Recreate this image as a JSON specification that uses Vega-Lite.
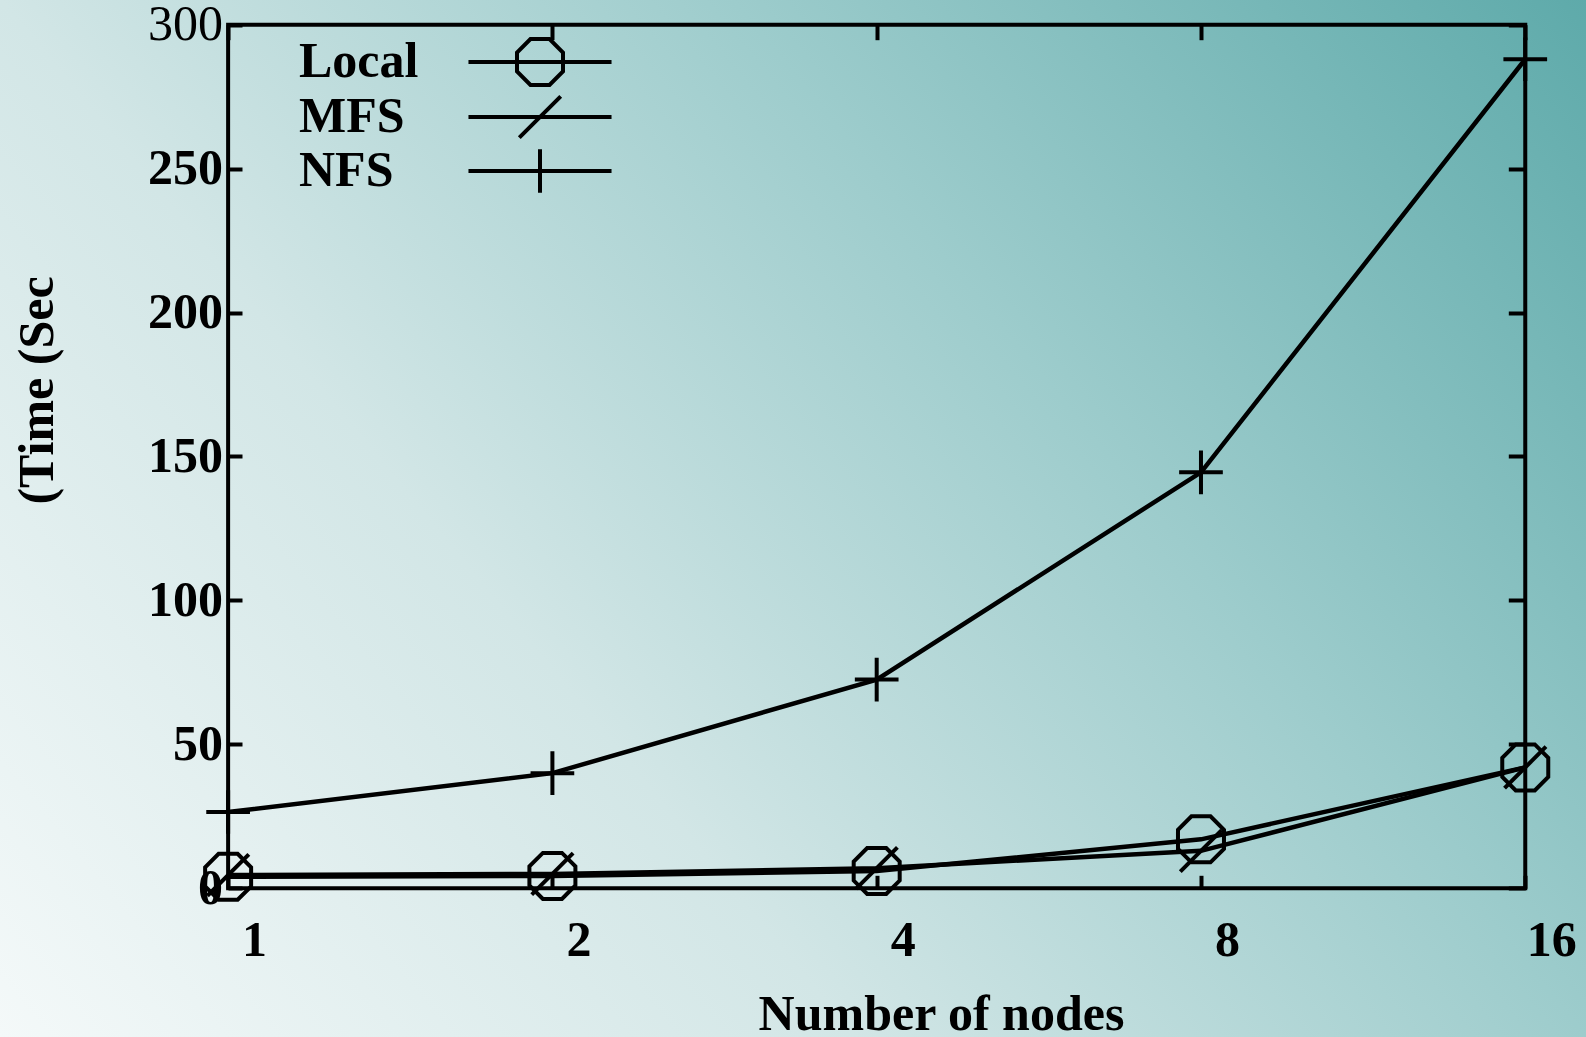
{
  "$schema": "https://vega.github.io/schema/vega-lite/v6.json",
  "width": 1586,
  "height": 1037,
  "autosize": {"type": "none"},
  "padding": 0,
  "background": "#f4f9f9",
  "view": {
    "stroke": null,
    "fill": {
      "gradient": "linear",
      "x1": 0, "y1": 1, "x2": 1.193, "y2": 0.358,
      "stops": [
        {"offset": 0, "color": "#f4f9f9"},
        {"offset": 0.35, "color": "#d2e6e6"},
        {"offset": 0.65, "color": "#9dcccc"},
        {"offset": 1, "color": "#5eaaaa"}
      ]
    }
  },
  "config": {
    "font": "Liberation Serif",
    "axis": {"grid": false}
  },
  "datasets": {
    "times": [
      {"nodes": 1, "series": "Local", "time": 4},
      {"nodes": 2, "series": "Local", "time": 4.3},
      {"nodes": 4, "series": "Local", "time": 6},
      {"nodes": 8, "series": "Local", "time": 17},
      {"nodes": 16, "series": "Local", "time": 42},
      {"nodes": 1, "series": "MFS", "time": 4.6},
      {"nodes": 2, "series": "MFS", "time": 5},
      {"nodes": 4, "series": "MFS", "time": 7},
      {"nodes": 8, "series": "MFS", "time": 13},
      {"nodes": 16, "series": "MFS", "time": 42},
      {"nodes": 1, "series": "NFS", "time": 26.5},
      {"nodes": 2, "series": "NFS", "time": 40},
      {"nodes": 4, "series": "NFS", "time": 72.5},
      {"nodes": 8, "series": "NFS", "time": 144.5},
      {"nodes": 16, "series": "NFS", "time": 288}
    ],
    "frame": [{"xmin": 1, "xmax": 16, "ymin": 0, "ymax": 300}]
  },
  "resolve": {
    "axis": {"x": "independent", "y": "independent"},
    "scale": {"shape": "independent"},
    "legend": {"shape": "independent"}
  },
  "layer": [
    {
      "data": {"name": "frame"},
      "mark": {"type": "rect", "fill": null, "stroke": "black", "strokeWidth": 4},
      "encoding": {
        "x": {
          "field": "xmin", "type": "quantitative",
          "scale": {"type": "log", "base": 2, "domain": [0.6141, 18.218], "nice": false},
          "axis": {
            "orient": "bottom", "offset": -148.7, "values": [1, 2, 4, 8, 16], "format": "d",
            "ticks": false, "domain": false, "labelPadding": 66.7, "labelBaseline": "alphabetic",
            "labelOffset": 26, "labelFont": "Liberation Serif", "labelFontSize": 50, "labelFontWeight": "bold",
            "labelColor": "black", "labelFlush": false, "labelOverlap": false, "labelBound": false,
            "title": "Number of nodes", "titleFont": "Liberation Serif", "titleFontSize": 50,
            "titleFontWeight": "bold", "titleColor": "black", "titleX": 941, "titleY": 141,
            "titleAlign": "center", "titleBaseline": "alphabetic", "titleAngle": 0
          }
        },
        "x2": {"field": "xmax"},
        "y": {
          "field": "ymin", "type": "quantitative",
          "scale": {"domain": [-51.66, 308.58], "nice": false, "zero": false},
          "axis": {
            "orient": "left", "offset": -228, "values": [0, 50, 100, 150, 200, 250, 300], "format": "d",
            "ticks": false, "domain": false, "labelPadding": 5.5, "labelBaseline": "middle", "labelAlign": "right",
            "labelFont": "Liberation Serif", "labelFontSize": 50,
            "labelFontWeight": {"condition": {"test": "datum.value == 300", "value": "normal"}, "value": "bold"},
            "labelColor": "black", "labelFlush": false, "labelOverlap": false, "labelBound": false,
            "title": "(Time (Sec", "titleFont": "Liberation Serif", "titleFontSize": 50,
            "titleFontWeight": "bold", "titleColor": "black", "titleX": -176, "titleY": 390,
            "titleAngle": 270, "titleAlign": "center", "titleBaseline": "alphabetic"
          }
        },
        "y2": {"field": "ymax"}
      }
    },
    {
      "data": {"name": "times"},
      "mark": {"type": "line", "color": "black", "strokeWidth": 4.5},
      "encoding": {
        "x": {
          "field": "nodes", "type": "quantitative",
          "scale": {"type": "log", "base": 2, "domain": [0.6141, 18.218], "nice": false},
          "axis": {
            "orient": "top", "offset": -888.3, "values": [1, 2, 4, 8, 16], "labels": false,
            "domain": false, "ticks": true, "tickSize": 13, "tickWidth": 4, "tickColor": "black", "title": null
          }
        },
        "y": {
          "field": "time", "type": "quantitative",
          "scale": {"domain": [-51.66, 308.58], "nice": false, "zero": false},
          "axis": {
            "orient": "right", "offset": -1358, "values": [0, 50, 100, 150, 200, 250, 300], "labels": false,
            "domain": false, "ticks": true, "tickSize": 14, "tickWidth": 4, "tickColor": "black", "title": null
          }
        },
        "detail": {"field": "series"}
      }
    },
    {
      "data": {"name": "times"},
      "mark": {"type": "point", "filled": false, "stroke": "black", "strokeWidth": 4, "size": 2116, "opacity": 1},
      "encoding": {
        "x": {
          "field": "nodes", "type": "quantitative",
          "scale": {"type": "log", "base": 2, "domain": [0.6141, 18.218], "nice": false},
          "axis": {
            "orient": "bottom", "offset": -1012.3, "values": [1, 2, 4, 8, 16], "labels": false,
            "domain": false, "ticks": true, "tickSize": 15, "tickWidth": 4, "tickColor": "black", "title": null
          }
        },
        "y": {
          "field": "time", "type": "quantitative",
          "scale": {"domain": [-51.66, 308.58], "nice": false, "zero": false},
          "axis": {
            "orient": "left", "offset": -1525.3, "values": [0, 50, 100, 150, 200, 250, 300], "labels": false,
            "domain": false, "ticks": true, "tickSize": 17, "tickWidth": 4, "tickColor": "black", "title": null
          }
        },
        "shape": {
          "field": "series", "type": "nominal",
          "scale": {
            "domain": ["Local", "MFS", "NFS"],
            "range": [
              "M-0.414,-1L0.414,-1L1,-0.414L1,0.414L0.414,1L-0.414,1L-1,0.414L-1,-0.414Z",
              "M-0.9,0.9L0.9,-0.9",
              "M-0.95,0L0.95,0M0,-0.95L0,0.95"
            ]
          },
          "legend": null
        }
      }
    },
    {
      "data": {"name": "times"},
      "mark": {"type": "point", "filled": false, "stroke": "black", "strokeWidth": 4, "size": 2116, "opacity": 0},
      "encoding": {
        "x": {
          "field": "nodes", "type": "quantitative",
          "scale": {"type": "log", "base": 2, "domain": [0.6141, 18.218], "nice": false},
          "axis": null
        },
        "y": {
          "field": "time", "type": "quantitative",
          "scale": {"domain": [-51.66, 308.58], "nice": false, "zero": false},
          "axis": null
        },
        "shape": {
          "field": "series", "type": "nominal",
          "scale": {
            "domain": ["Local", "MFS", "NFS"],
            "range": [
              "M-3.11,0L3.11,0M-0.414,-1L0.414,-1L1,-0.414L1,0.414L0.414,1L-0.414,1L-1,0.414L-1,-0.414Z",
              "M-3.11,0L3.11,0M-0.9,0.9L0.9,-0.9",
              "M-3.11,0L3.11,0M0,-0.95L0,0.95"
            ]
          },
          "legend": {
            "orient": "none", "legendX": 515, "legendY": 37, "title": null, "padding": 0,
            "gridAlign": "none", "rowPadding": -5, "labelOffset": -266, "labelFont": "Liberation Serif", "labelFontSize": 50,
            "labelFontWeight": "bold", "labelColor": "black", "labelBaseline": "middle", "labelLimit": 0,
            "symbolSize": 2116, "symbolStrokeWidth": 4, "symbolStrokeColor": "black",
            "symbolFillColor": "transparent", "symbolOpacity": 1
          }
        }
      }
    }
  ]
}
